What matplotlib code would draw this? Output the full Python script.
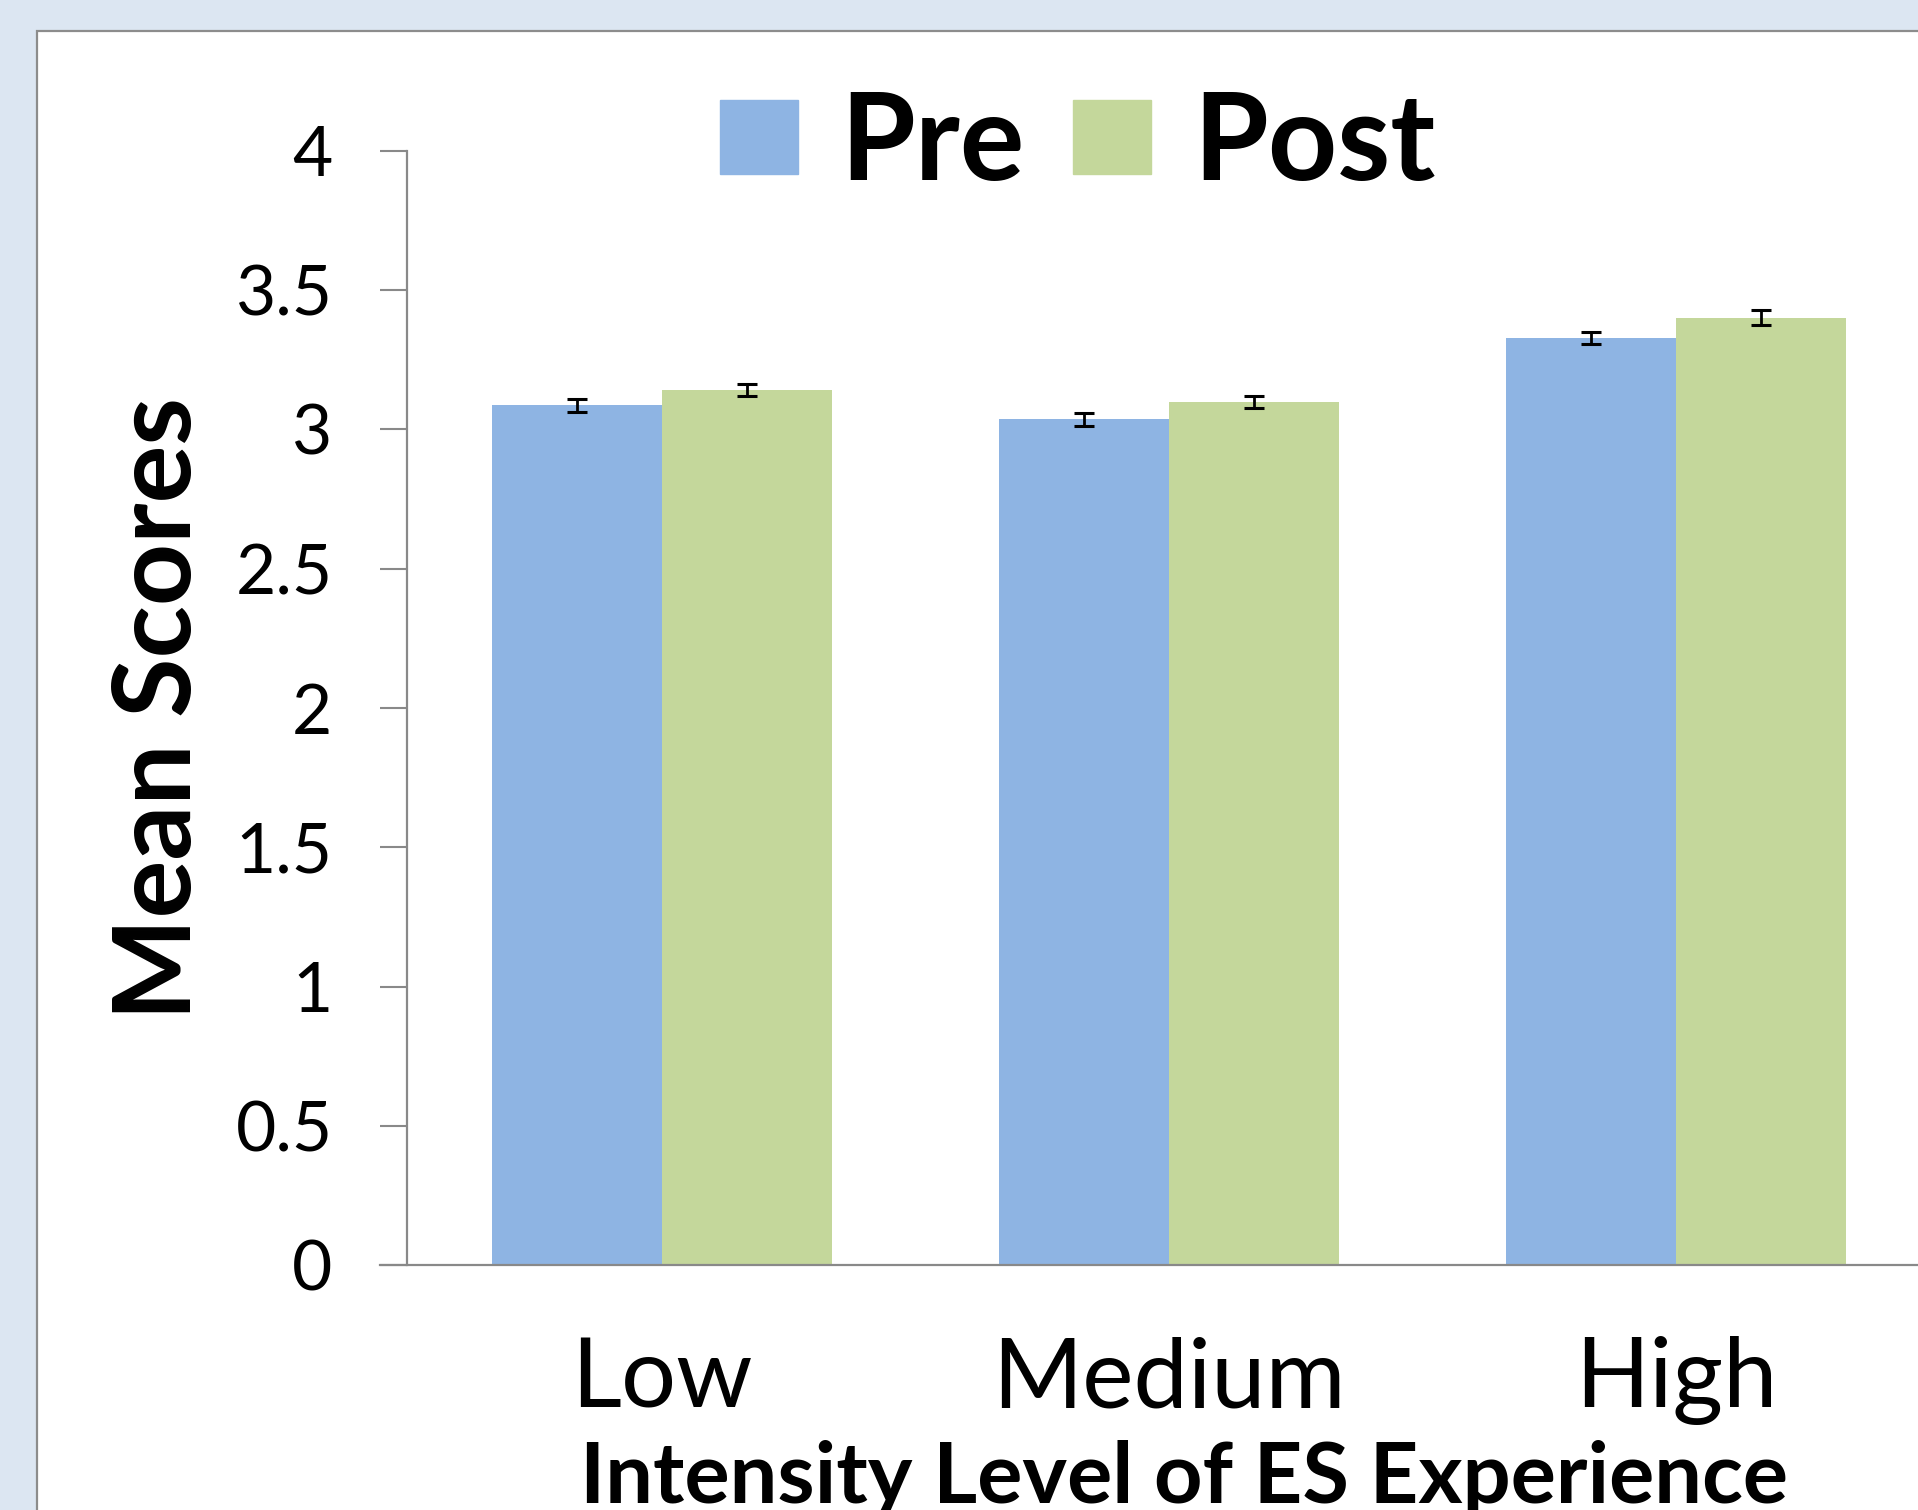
import matplotlib
matplotlib.use('Agg')
import matplotlib.pyplot as plt
from matplotlib.patches import Rectangle, Patch
import numpy as np

# data
categories = ['Low', 'Medium', 'High']
pre_means = [3.087, 3.036, 3.328]
post_means = [3.140, 3.098, 3.401]
pre_err = [0.023, 0.023, 0.022]
post_err = [0.022, 0.023, 0.026]
y_ticks = [0, 0.5, 1, 1.5, 2, 2.5, 3, 3.5, 4]
y_tick_labels = ['0', '0.5', '1', '1.5', '2', '2.5', '3', '3.5', '4']

pre_color = '#8EB4E3'
post_color = '#C4D79B'
grey = '#898989'

plt.rcParams['font.family'] = ['Lato', 'DejaVu Sans']

W, H = 1918, 1510
fig = plt.figure(figsize=(W / 100, H / 100), dpi=100)
fig.patch.set_facecolor('#DCE6F2')

# white chart panel with grey border, running off the right and bottom edges
panel = Rectangle((37 / W, -0.1), 1.2, 1 - 31 / H + 0.1, transform=fig.transFigure,
                  facecolor='white', edgecolor='#8C8C8C', linewidth=1.6, zorder=-5)
fig.patches.append(panel)

left = 406.7 / W
bottom = (H - 1265.3) / H
top = (H - 150.7) / H
ax = fig.add_axes([left, bottom, 1 - left, top - bottom])
ax.set_facecolor('none')

x = np.arange(len(categories))
w = 0.335
ax.bar(x - w / 2, pre_means, w, color=pre_color, label='Pre', zorder=2)
ax.bar(x + w / 2, post_means, w, color=post_color, label='Post', zorder=2)
ekw = dict(fmt='none', ecolor='black', elinewidth=2.0, capsize=7.5, capthick=2.2, zorder=3)
ax.errorbar(x - w / 2, pre_means, yerr=pre_err, **ekw)
ax.errorbar(x + w / 2, post_means, yerr=post_err, **ekw)

ax.set_ylim(0, 4)
ax.set_xlim(-0.5036, 2.477)
ax.set_yticks(y_ticks)
ax.set_yticklabels(y_tick_labels)
ax.set_xticks(x)
ax.set_xticklabels(categories)

for s in ['top', 'right']:
    ax.spines[s].set_visible(False)
for s in ['left', 'bottom']:
    ax.spines[s].set_color(grey)
    ax.spines[s].set_linewidth(1.6)
ax.spines['bottom'].set_bounds(-0.5036 - 27 / 507, 2.477)
ax.spines['bottom'].set_clip_on(False)

ax.tick_params(axis='y', direction='out', length=19.4, width=1.5, color=grey,
               labelsize=50, pad=34)
ax.tick_params(axis='x', length=0, labelsize=70, pad=51)

ax.set_xlabel('Intensity Level of ES Experience', fontsize=61, fontweight='bold')
ax.xaxis.set_label_coords(0.514, -0.157)
ax.xaxis.label.set_va('top')
ax.set_ylabel('Mean Scores', fontsize=78, fontweight='bold')
ax.yaxis.set_label_coords(-0.131, 0.500)

handles = [Patch(color=pre_color, label='Pre'), Patch(color=post_color, label='Post')]
fig.legend(handles=handles, loc='center', bbox_to_anchor=(1077.5 / W, 1 - 145 / H),
           ncol=2, frameon=False, prop={'size': 87, 'weight': 'bold'},
           handlelength=0.645, handleheight=0.56, handletextpad=0.35,
           columnspacing=0.4, borderpad=0, borderaxespad=0)

fig.savefig('out.png', dpi=100, facecolor=fig.get_facecolor())
